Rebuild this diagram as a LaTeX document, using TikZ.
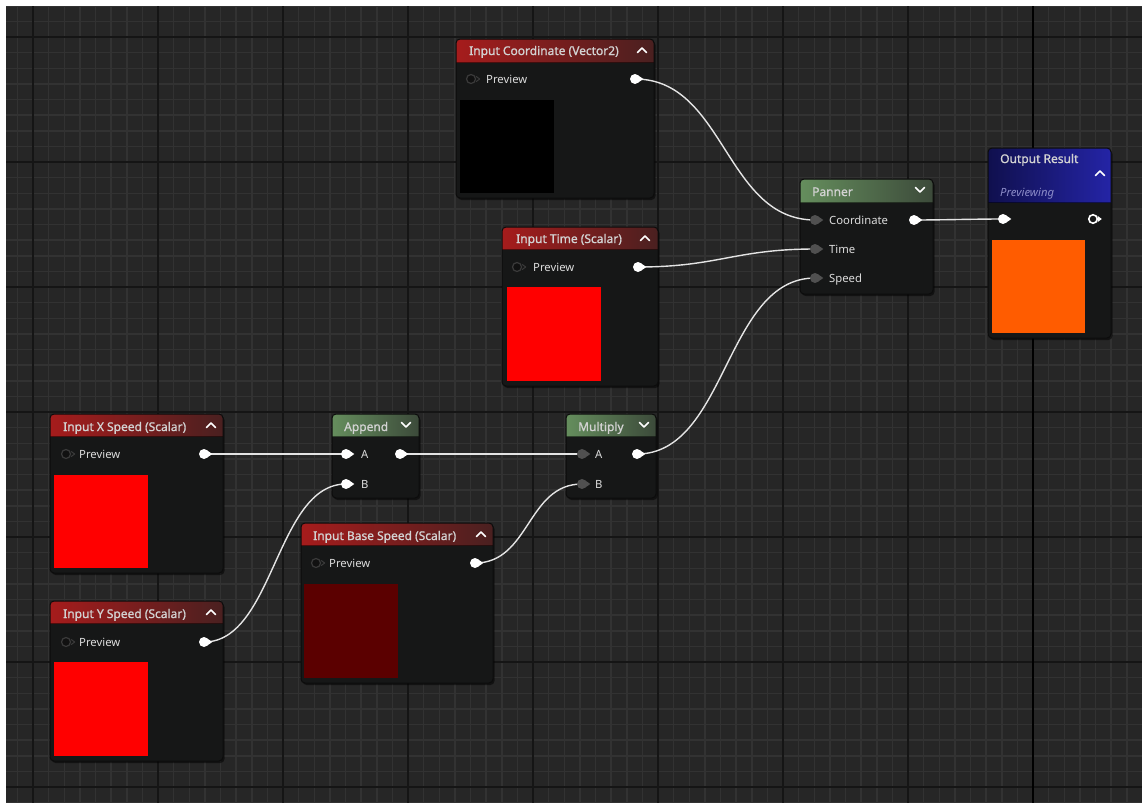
\documentclass[tikz,border=0pt]{standalone}
\usepackage{fontspec}
\setmainfont{Noto Sans}
\newfontfamily\ttlfont[FakeBold=1.1]{Noto Sans}
\usetikzlibrary{shadows}
\pgfdeclarelayer{pins}
\pgfsetlayers{main,pins}
\definecolor{canvas}{HTML}{262626}
\definecolor{gridminor}{HTML}{323232}
\definecolor{gridmajor}{HTML}{151515}
\definecolor{body}{HTML}{161717}
\definecolor{hrA}{HTML}{A61C1C}
\definecolor{hrB}{HTML}{8E1C1C}
\definecolor{hrC}{HTML}{4A2020}
\definecolor{hgA}{HTML}{658E5D}
\definecolor{hgB}{HTML}{587B52}
\definecolor{hgC}{HTML}{3C4A3A}
\definecolor{hbA}{HTML}{10104E}
\definecolor{hbB}{HTML}{1C1C92}
\definecolor{hbC}{HTML}{2424A6}
\definecolor{ttlc}{HTML}{D2D2D2}
\definecolor{lblc}{HTML}{DCDCDC}
\definecolor{pingray}{HTML}{505050}
\definecolor{pinring}{HTML}{3A3A3A}
\definecolor{pindark}{HTML}{111111}
\definecolor{wirec}{HTML}{E4E4E4}
\definecolor{prevc}{HTML}{8C8CC8}
\definecolor{orangeprev}{HTML}{FF5C00}
\definecolor{darkredprev}{HTML}{5B0000}
\definecolor{edgec}{HTML}{0C0C0C}
\tikzset{
  nodebody/.style={rounded corners=4pt, fill=body, draw=none, inner sep=0pt, outer sep=0pt,
    drop shadow={fill=black, shadow xshift=1.5pt, shadow yshift=-2pt, opacity=0.5}},
  nodeedge/.style={draw=edgec, line width=1pt, rounded corners=4pt},
  hred/.style={left color=hrA, middle color=hrB, right color=hrC},
  hgreen/.style={left color=hgA, middle color=hgB, right color=hgC},
  hblue/.style={left color=hbA, middle color=hbB, right color=hbC},
  ttl/.style={anchor=base west, inner sep=0pt, text=ttlc, font=\ttlfont\fontsize{12}{14}\selectfont},
  lbl/.style={anchor=base west, inner sep=0pt, text=lblc, font=\fontsize{11.3}{13}\selectfont},
  prvw/.style={anchor=base west, inner sep=0pt, text=prevc, font=\fontsize{11.3}{13}\selectfont\itshape},
  pinw/.style={circle, fill=white, minimum size=10pt, inner sep=0pt},
  ping/.style={circle, fill=pingray, minimum size=10pt, inner sep=0pt},
  pinh/.style={circle, fill=pindark, draw=pinring, line width=1.2pt, minimum size=9pt, inner sep=0pt},
  pinho/.style={circle, fill=body, draw=white, line width=1.6pt, minimum size=8.5pt, inner sep=0pt},
  wire/.style={draw=wirec, line width=1.4pt},
  chev/.style={draw=white, line width=1.6pt, line cap=round, line join=round},
}
\newcommand\uebox[7]{%
  \pgfmathsetmacro\bw{#4-#2}\pgfmathsetmacro\bh{#5-#3}%
  \node[nodebody, minimum width=\bw pt, minimum height=\bh pt, anchor=north west] (#1) at (#2,#3) {};
  \begin{scope}
    \clip[rounded corners=4pt] (#2,#3) rectangle (#4,#5);
    \shade[#7] (#2,#3) rectangle (#4,#6);
    \draw[black, opacity=0.5, line width=0.8pt] (#2,#6) -- (#4,#6);
  \end{scope}
  \draw[nodeedge] (#2,#3) rectangle (#4,#5);
}
\newcommand\chevup[2]{\draw[chev] (#1-4.5,#2+2.5) -- (#1,#2-2) -- (#1+4.5,#2+2.5);}
\newcommand\chevdown[2]{\draw[chev] (#1-4.5,#2-2.5) -- (#1,#2+2) -- (#1+4.5,#2-2.5);}
\newcommand\pinW[3]{\node[pinw] (#1) at (#2,#3) {};
  \fill[white] (#1.east) ++(-1.5,-3.2) -- ++(4.6,3.2) -- ++(-4.6,3.2) -- cycle;}
\newcommand\pinG[3]{\node[ping] (#1) at (#2,#3) {};
  \fill[pingray] (#1.east) ++(-1.5,-3.2) -- ++(4.6,3.2) -- ++(-4.6,3.2) -- cycle;}
\newcommand\pinH[3]{\node[pinh] (#1) at (#2,#3) {};
  \draw[pinring, line width=1pt, line join=round] (#1.east) ++(0,-2.6) -- ++(3.6,2.6) -- ++(-3.6,2.6);}
\newcommand\pinO[3]{\node[pinho] (#1) at (#2,#3) {};
  \fill[white] (#1.east) ++(-0.5,-3.2) -- ++(4.2,3.2) -- ++(-4.2,3.2) -- cycle;}
\newcommand\wire[3]{\draw[wire] (#1.center) .. controls +(#3,0) and +(-#3,0) .. (#2.center);}
\begin{document}
\begin{tikzpicture}[x=1pt,y=-1pt]
\useasboundingbox (0,0) rectangle (1142,803);
\fill[white] (0,0) rectangle (1142,803);
\fill[canvas] (6,6) rectangle (1142,803);
\begin{scope}
  \clip (6,6) rectangle (1142,803);
  \foreach \k in {0,...,73} {
    \draw[gridminor, line width=1.5pt] ({1.75+15.625*\k},6) -- ({1.75+15.625*\k},803);
  }
  \foreach \k in {0,...,51} {
    \draw[gridminor, line width=1.5pt] (6,{5.75+15.625*\k}) -- (1142,{5.75+15.625*\k});
  }
  \foreach \k in {0,...,7} {
    \draw[gridmajor, line width=2pt] ({33+125*\k},6) -- ({33+125*\k},803);
  }
  \foreach \k in {0,...,6} {
    \draw[gridmajor, line width=2pt] (6,{37+125*\k}) -- (1142,{37+125*\k});
  }
  \draw[black, line width=2.6pt] (1033,6) -- (1033,803);
\end{scope}

% ---------- node boxes ----------
\uebox{coordBox}{456}{39}{654}{198}{62}{hred}
\uebox{timeBox}{502}{227}{658}{386}{249}{hred}
\uebox{pannerBox}{800}{179}{933}{294}{202}{hgreen}
\uebox{outBox}{988}{148}{1111}{338}{202}{hblue}
\uebox{xBox}{50}{414}{223}{573}{436}{hred}
\uebox{appendBox}{332}{414}{419}{498}{436}{hgreen}
\uebox{mulBox}{566}{414}{656}{498}{436}{hgreen}
\uebox{yBox}{50}{601}{223}{761}{623}{hred}
\uebox{baseBox}{301}{523}{493}{683}{545}{hred}

% ---------- previews ----------
\fill[black] (460,100) rectangle (554,193);
\fill[red] (507,287) rectangle (601,381);
\fill[orangeprev] (992,240) rectangle (1085,333);
\fill[red] (54,475) rectangle (148,568);
\fill[red] (54,662) rectangle (148,756);
\fill[darkredprev] (304,584) rectangle (398,678);

% ---------- titles ----------
\node[ttl] (coordT) at (469,55) {Input Coordinate (Vector2)};
\node[ttl] (timeT) at (516,243) {Input Time (Scalar)};
\node[ttl] (pannerT) at (812,196) {Panner};
\node[ttl] (outT) at (1000,163) {Output Result};
\node[prvw] (outP) at (1000,196) {Previewing};
\node[ttl] (xT) at (63,431) {Input X Speed (Scalar)};
\node[ttl] (appendT) at (344,431) {Append};
\node[ttl] (mulT) at (578,431) {Multiply};
\node[ttl] (yT) at (63,618) {Input Y Speed (Scalar)};
\node[ttl] (baseT) at (313,540) {Input Base Speed (Scalar)};

\chevup{642}{50}
\chevup{645}{238}
\chevdown{920}{190}
\chevup{1100}{173}
\chevup{211}{425}
\chevdown{406}{425}
\chevdown{644}{425}
\chevup{211}{612}
\chevup{481}{534}

% ---------- pin labels ----------
\node[lbl] (coordL) at (486,83) {Preview};
\node[lbl] (timeL) at (533,271) {Preview};
\node[lbl] (pCoordL) at (829,224) {Coordinate};
\node[lbl] (pTimeL) at (829,253) {Time};
\node[lbl] (pSpeedL) at (829,282) {Speed};
\node[lbl] (xL) at (79,458) {Preview};
\node[lbl] (apAL) at (361,458) {A};
\node[lbl] (apBL) at (361,488) {B};
\node[lbl] (mulAL) at (595,458) {A};
\node[lbl] (mulBL) at (595,488) {B};
\node[lbl] (yL) at (79,646) {Preview};
\node[lbl] (baseL) at (329,567) {Preview};

% ---------- pins (on the layer above the wires) ----------
\begin{pgfonlayer}{pins}
\pinH{coordIn}{471}{79}
\pinW{coordOut}{635}{79}
\pinH{timeIn}{517}{267}
\pinW{timeOut}{638}{267}
\pinG{pCoord}{815}{220}
\pinG{pTime}{815}{249}
\pinG{pSpeed}{815}{278}
\pinW{pOut}{914}{220}
\pinW{outIn}{1003}{219}
\pinO{outOut}{1093}{219}
\pinH{xIn}{66}{454}
\pinW{xOut}{204}{454}
\pinW{apA}{346}{454}
\pinW{apB}{346}{484}
\pinW{apOut}{400}{454}
\pinG{mulA}{582}{454}
\pinG{mulB}{582}{484}
\pinW{mulOut}{637}{454}
\pinH{yIn}{66}{642}
\pinW{yOut}{204}{642}
\pinH{baseIn}{316}{563}
\pinW{baseOut}{475}{563}
\end{pgfonlayer}

% ---------- wires ----------
\wire{coordOut}{pCoord}{90}
\wire{timeOut}{pTime}{80}
\wire{mulOut}{pSpeed}{90}
\wire{pOut}{outIn}{30}
\wire{xOut}{apA}{50}
\wire{apOut}{mulA}{60}
\wire{yOut}{apB}{70}
\wire{baseOut}{mulB}{55}
\end{tikzpicture}
\end{document}
